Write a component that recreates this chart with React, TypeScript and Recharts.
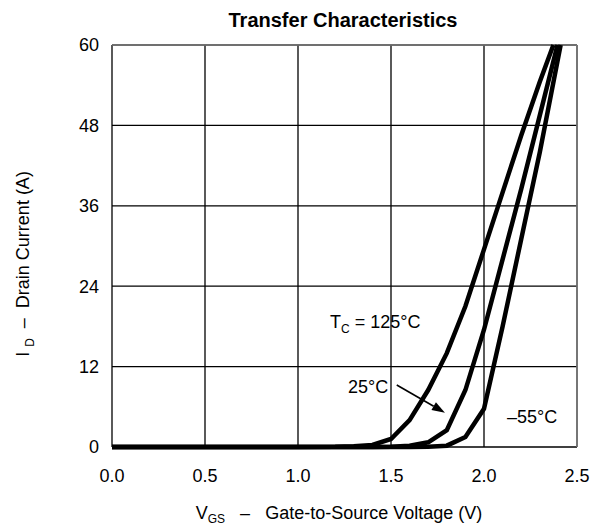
import React from 'react';
import {
  LineChart,
  Line,
  XAxis,
  YAxis,
  CartesianGrid,
  ReferenceLine,
  ReferenceDot,
} from 'recharts';

// gate voltage (V) / drain current (A)
const vgs125 = [0.0, 0.5, 1.0, 1.2, 1.3, 1.4, 1.5, 1.6, 1.7, 1.8, 1.9, 2.0, 2.1, 2.2, 2.3, 2.373];
const id125 = [0, 0, 0, 0.02, 0.1, 0.3, 1.2, 4.0, 8.5, 14, 21, 29.5, 38, 46.5, 54.5, 60];

const vgs25 = [0.0, 0.5, 1.0, 1.4, 1.5, 1.6, 1.7, 1.8, 1.9, 2.0, 2.1, 2.2, 2.3, 2.395];
const id25 = [0, 0, 0, 0.01, 0.05, 0.2, 0.7, 2.5, 8.5, 17.5, 28, 38.5, 49.5, 60];

const vgsM55 = [0.0, 0.5, 1.0, 1.5, 1.6, 1.7, 1.8, 1.9, 2.0, 2.1, 2.2, 2.3, 2.412];
const idM55 = [0, 0, 0, 0, 0.01, 0.05, 0.2, 1.5, 5.7, 18, 31, 44, 60];

const xTicks = [0, 0.5, 1.0, 1.5, 2.0, 2.5];
const yTicks = [0, 12, 24, 36, 48, 60];

const toRows = (vs: number[], is: number[]) => vs.map((v, i) => ({ vgs: v, id: is[i] }));

const curve125 = toRows(vgs125, id125);
const curve25 = toRows(vgs25, id25);
const curveM55 = toRows(vgsM55, idM55);

const FONT = '"Liberation Sans", Arial, Helvetica, sans-serif';

const AnnoText = (txt: string, sub?: string, rest?: string) => (props: any) => (
  <text x={props.cx} y={props.cy} fontSize={18} fontFamily={FONT} fill="#000">
    {txt}
    {sub && (
      <tspan fontSize={12} dy={5}>
        {sub}
      </tspan>
    )}
    {rest && <tspan dy={sub ? -5 : 0}>{rest}</tspan>}
  </text>
);

const Arrow = (props: any) => {
  const { x1, y1, x2, y2 } = props;
  const ang = Math.atan2(y2 - y1, x2 - x1);
  const len = 13;
  const w = 4.5;
  const bx = x2 - len * Math.cos(ang);
  const by = y2 - len * Math.sin(ang);
  const px = -Math.sin(ang) * w;
  const py = Math.cos(ang) * w;
  return (
    <g>
      <line x1={x1} y1={y1} x2={bx} y2={by} stroke="#000" strokeWidth={1.6} />
      <polygon points={`${x2},${y2} ${bx + px},${by + py} ${bx - px},${by - py}`} fill="#000" />
    </g>
  );
};

export default function App() {
  return (
    <div style={{ position: 'absolute', left: 0, top: 0, width: 602, height: 527, background: '#fff' }}>
      <LineChart
        width={602}
        height={527}
        margin={{ top: 45, right: 25, bottom: 40, left: 52 }}
        style={{ fontFamily: FONT }}
      >
        <CartesianGrid stroke="#000" strokeWidth={1.3} />
        <XAxis
          dataKey="vgs"
          type="number"
          domain={[0, 2.5]}
          ticks={xTicks}
          tickFormatter={(v: number) => v.toFixed(1)}
          axisLine={false}
          tickLine={false}
          tickSize={6}
          tickMargin={16}
          height={40}
          tick={{ fill: '#000', fontSize: 18 }}
          label={{
            position: 'insideBottom',
            content: () => (
              <text
                x={339}
                y={519}
                textAnchor="middle"
                fontSize={18}
                fontFamily={FONT}
                fill="#000"
                style={{ whiteSpace: 'pre' }}
              >
                V<tspan fontSize={12} dy={4}>GS</tspan>
                <tspan dy={-4}>{'   –   Gate-to-Source Voltage (V)'}</tspan>
              </text>
            ),
          }}
        />
        <YAxis
          type="number"
          domain={[0, 60]}
          ticks={yTicks}
          axisLine={false}
          tickLine={false}
          tickSize={6}
          tickMargin={7}
          width={60}
          tick={{ fill: '#000', fontSize: 18 }}
          label={{
            position: 'insideLeft',
            content: () => (
              <text
                x={0}
                y={0}
                transform="translate(29 264) rotate(-90)"
                textAnchor="middle"
                fontSize={18}
                fontFamily={FONT}
                fill="#000"
                style={{ whiteSpace: 'pre' }}
              >
                {'I '}
                <tspan fontSize={12} dy={5}>D</tspan>
                <tspan dy={-5}>{'  –  Drain Current (A)'}</tspan>
              </text>
            ),
          }}
        />
        <ReferenceLine y={60} stroke="#808080" strokeWidth={1.5} />
        <ReferenceLine x={2.5} stroke="#808080" strokeWidth={1.5} />

        <Line data={curve125} dataKey="id" type="linear" stroke="#000" strokeWidth={4.5} dot={false} isAnimationActive={false} />
        <Line data={curve25} dataKey="id" type="linear" stroke="#000" strokeWidth={4.5} dot={false} isAnimationActive={false} />
        <Line data={curveM55} dataKey="id" type="linear" stroke="#000" strokeWidth={4.5} dot={false} isAnimationActive={false} />

        <ReferenceLine
          segment={[
            { x: 1.531, y: 9.25 },
            { x: 1.79, y: 5.12 },
          ]}
          shape={Arrow}
        />
        <ReferenceDot x={1.172} y={17.76} r={0} shape={AnnoText('T', 'C', ' = 125°C')} />
        <ReferenceDot x={1.269} y={8.06} r={0} shape={AnnoText('25°C')} />
        <ReferenceDot x={2.124} y={3.58} r={0} shape={AnnoText('–55°C')} />

        <text x={343} y={27} textAnchor="middle" fontSize={20} fontWeight="bold" fontFamily={FONT} fill="#000">
          Transfer Characteristics
        </text>
      </LineChart>
    </div>
  );
}
